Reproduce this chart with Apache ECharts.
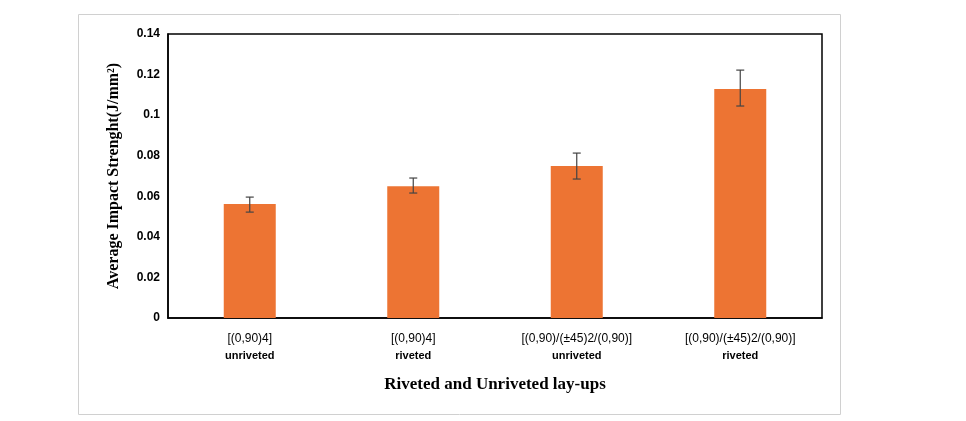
<!DOCTYPE html>
<html>
<head>
<meta charset="utf-8">
<script src="https://cdn.jsdelivr.net/npm/echarts@6/dist/echarts.min.js"></script>
<style>html,body{margin:0;background:#fff}#chart{width:966px;height:421px}</style>
</head>
<body>
<div id="chart"></div>
<script>
const categories = ['[(0,90)4]|unriveted', '[(0,90)4]|riveted', '[(0,90)/(±45)2/(0,90)]|unriveted', '[(0,90)/(±45)2/(0,90)]|riveted'];
const values = [0.0562, 0.065, 0.0749, 0.1129];
const errLow = [0.0522, 0.0616, 0.0685, 0.1045];
const errHigh = [0.0596, 0.069, 0.0813, 0.1222];
const yTicks = [0, 0.02, 0.04, 0.06, 0.08, 0.1, 0.12, 0.14];

const chart = echarts.init(document.getElementById('chart'));
chart.setOption({
  animation: false,
  graphic: [{
    type: 'rect', shape: {x: 78.5, y: 14.5, width: 762, height: 400},
    style: {fill: 'none', stroke: '#d0d0d0', lineWidth: 1}
  }],
  grid: {left: 168, right: 144, top: 34, bottom: 103, show: true, borderColor: '#000', borderWidth: 1.5},
  xAxis: {
    type: 'category', data: categories,
    axisLine: {lineStyle: {color: '#000', width: 1.5}}, axisTick: {show: false},
    axisLabel: {
      margin: 12, interval: 0,
      formatter: v => { const p = v.split('|'); return '{a|' + p[0] + '}\n{b|' + p[1] + '}'; },
      rich: {
        a: {fontFamily: 'Liberation Sans', fontSize: 12, color: '#000', lineHeight: 17},
        b: {fontFamily: 'Liberation Sans', fontSize: 11, fontWeight: 'bold', color: '#000', lineHeight: 17}
      }
    },
    name: 'Riveted and Unriveted lay-ups', nameLocation: 'middle', nameGap: 58,
    nameTextStyle: {fontFamily: 'Liberation Serif', fontWeight: 'bold', fontSize: 17, color: '#000'}
  },
  yAxis: {
    type: 'value', min: 0, max: 0.14, interval: 0.02,
    splitLine: {show: false},
    axisLine: {show: true, lineStyle: {color: '#000', width: 1.5}},
    axisLabel: {fontFamily: 'Liberation Sans', fontWeight: 'bold', fontSize: 12, color: '#000',
      formatter: v => { const t = yTicks.find(x => Math.abs(x - v) < 1e-9); return t === undefined ? '' : String(+t.toFixed(2)); }},
    name: 'Average Impact Strenght(J/mm²)', nameLocation: 'middle', nameGap: 46,
    nameTextStyle: {fontFamily: 'Liberation Serif', fontWeight: 'bold', fontSize: 16, color: '#000'}
  },
  series: [{
    type: 'bar', data: values, barWidth: 52, itemStyle: {color: '#ED7433'}
  }, {
    type: 'custom', z: 10,
    data: categories.map((c, i) => [i, errLow[i], errHigh[i]]),
    renderItem: (params, api) => {
      const lo = api.coord([api.value(0), api.value(1)]);
      const hi = api.coord([api.value(0), api.value(2)]);
      const w = 4, st = {stroke: '#444', lineWidth: 1.2};
      return {type: 'group', children: [
        {type: 'line', shape: {x1: hi[0], y1: hi[1], x2: lo[0], y2: lo[1]}, style: st},
        {type: 'line', shape: {x1: hi[0] - w, y1: hi[1], x2: hi[0] + w, y2: hi[1]}, style: st},
        {type: 'line', shape: {x1: lo[0] - w, y1: lo[1], x2: lo[0] + w, y2: lo[1]}, style: st}
      ]};
    }
  }]
});
</script>
</body>
</html>
